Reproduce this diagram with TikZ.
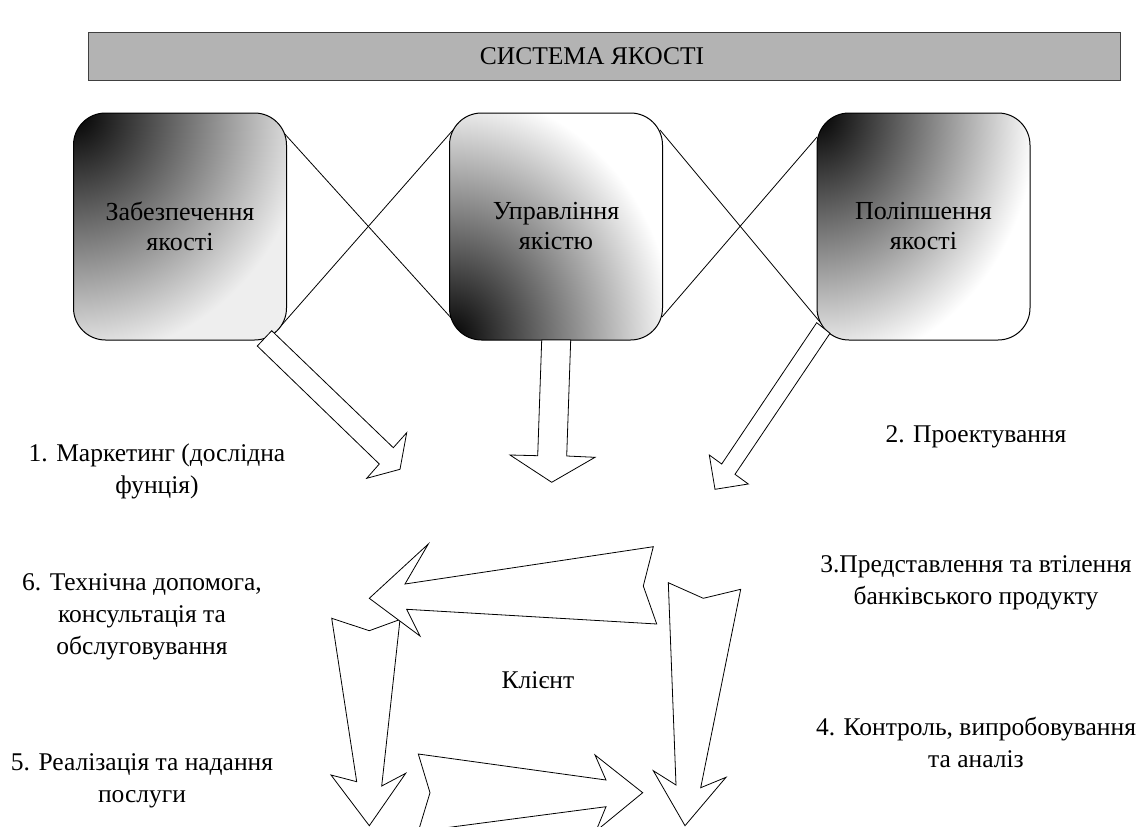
\documentclass[tikz,border=0pt]{standalone}
\usepackage{fontspec}
\setmainfont{Liberation Serif}

\definecolor{bannerfill}{RGB}{179,179,179}
\definecolor{bannerline}{RGB}{64,64,64}
\definecolor{palegray}{RGB}{238,238,238}

% corner glows: dark at the centre, fading out towards the rim
\pgfdeclareradialshading{glowgray}{\pgfpoint{0bp}{0bp}}{color(0bp)=(black); color(25bp)=(palegray); color(50bp)=(palegray)}
\pgfdeclareradialshading{glowwhite}{\pgfpoint{0bp}{0bp}}{color(0bp)=(black); color(25bp)=(white); color(50bp)=(white)}

\tikzset{
  txt/.style={align=center, inner sep=0pt, font=\fontsize{25.5}{32}\selectfont},
  banner/.style={draw=bannerline, line width=1pt, fill=bannerfill, inner sep=0pt},
  title/.style={inner sep=0pt, font=\fontsize{25.5}{30}\selectfont},
  qbox/.style={draw=black, line width=1pt, rounded corners=32pt, inner sep=0pt,
    minimum width=213, minimum height=227, align=center,
    font=\fontsize{26}{30}\selectfont},
  link/.style={draw=black, line width=0.8pt},
  blockarrow/.style={draw=black, fill=white, line width=0.8pt, line join=miter}
}

\begin{document}
\begin{tikzpicture}[x=1pt, y=-1pt]
\useasboundingbox (0,0) rectangle (1141,827);
\begin{scope}
\clip (0,0) rectangle (1141,827);

% title bar
\node[banner, minimum width=1032, minimum height=48] (sys) at (604,56) {};
\node[title] (systitle) at (592,56) {СИСТЕМА ЯКОСТІ};

% crossing links between the three boxes
\coordinate (a1) at (283,132);
\coordinate (a2) at (453,320);
\coordinate (b1) at (280,327);
\coordinate (b2) at (453,130);
\coordinate (c1) at (660,130);
\coordinate (c2) at (820,322);
\coordinate (d1) at (662,317);
\coordinate (d2) at (817,137);
\draw[link] (a1) -- (a2);
\draw[link] (b1) -- (b2);
\draw[link] (c1) -- (c2);
\draw[link] (d1) -- (d2);

% the three quality boxes
\node[qbox, path picture={
    \shade[shading=glowgray] (path picture bounding box.north west) ++(-235,-245) rectangle ++(470,490);
  }] (assure) at (180,226.5) {Забезпечення\\якості};
\node[qbox, path picture={
    \shade[shading=glowwhite] (path picture bounding box.south west) ++(-225,-250) rectangle ++(450,500);
  }] (manage) at (556,226.5) {Управління\\якістю};
\node[qbox, path picture={
    \shade[shading=glowwhite] (path picture bounding box.north west) ++(-220,-255) rectangle ++(440,510);
  }] (improve) at (923.5,226.5) {Поліпшення\\якості};

% block arrows leaving the boxes
\draw[blockarrow] (271.7,330.7) -- (393.3,447.7) -- (406.7,432.7) -- (400,469.3)
  -- (366.7,478.3) -- (379.3,464) -- (257.3,346) -- cycle;
\draw[blockarrow] (541.7,340) -- (537.7,455.7) -- (510,455) -- (551.7,482.3)
  -- (595,457.3) -- (566.7,456) -- (570.7,340) -- cycle;
\draw[blockarrow] (816.7,322.7) -- (830,333.3) -- (735,474.3) -- (748.3,484)
  -- (715,489.3) -- (709.3,455) -- (721.7,464) -- cycle;

% cycle of arrows around the client
\draw[blockarrow] (331.7,618.3) -- (369.3,630.7) -- (400,619.5) -- (381.7,786)
  -- (405.7,773.3) -- (369.3,825.7) -- (331,775) -- (356.7,781.7) -- cycle;
\draw[blockarrow] (653.3,546.7) -- (643.3,586) -- (656.7,624) -- (406.7,609.3)
  -- (420,636) -- (369.3,598.3) -- (428.3,544) -- (405,584) -- cycle;
\draw[blockarrow] (668.3,582.7) -- (703.3,598.3) -- (740.7,589.3) -- (700.7,787.7)
  -- (726,777.3) -- (685,825.7) -- (653.3,770.7) -- (676,785) -- cycle;
\draw[blockarrow] (418.3,754) -- (430,792.7) -- (418.3,831.4) -- (606,806.7)
  -- (596,831) -- (642.7,792.7) -- (595,755) -- (606,780) -- cycle;

% labels
\node[txt] (client) at (538,680) {Клієнт};
\node[txt] (s1) at (157,471) {1. Маркетинг (дослідна\\фунція)};
\node[txt] (s6) at (142,617) {6. Технічна допомога,\\консультація та\\обслуговування};
\node[txt] (s5) at (142,781) {5. Реалізація та надання\\послуги};
\node[txt] (s2) at (976,437) {2. Проектування};
\node[txt] (s3) at (976,583) {3.Представлення та втілення\\банківського продукту};
\node[txt] (s4) at (976,742) {4. Контроль, випробовування\\та аналіз};
\end{scope}
\end{tikzpicture}
\end{document}
